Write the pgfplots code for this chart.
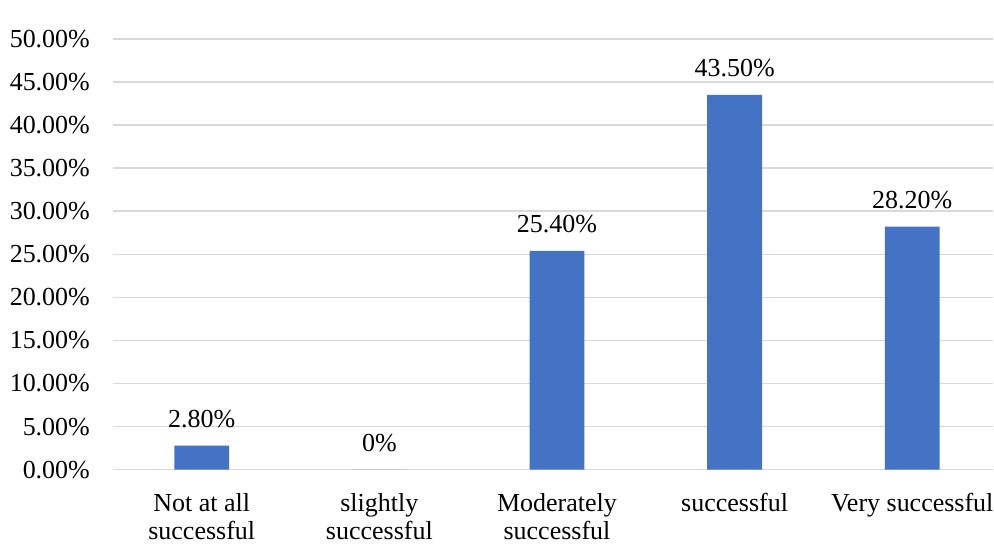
\documentclass[border=0pt]{standalone}
\usepackage{pgfplots}
\pgfplotsset{compat=1.18}
\usepackage{fontspec}
\setmainfont{Liberation Serif}
\definecolor{barblue}{HTML}{4472C4}
\definecolor{gridgray}{HTML}{D9D9D9}
\begin{document}
\fontsize{13bp}{14bp}\selectfont
\begin{tikzpicture}
\begin{axis}[
  scale only axis,
  width=440.5bp, height=215.5bp,
  xmin=-0.5, xmax=4.456,
  ymin=0, ymax=50,
  /pgf/number format/assume math mode=true,
  ytick={0,5,...,50},
  yticklabels={0.00\%,5.00\%,10.00\%,15.00\%,20.00\%,25.00\%,30.00\%,35.00\%,40.00\%,45.00\%,50.00\%},
  xtick={0,1,2,3,4},
  xticklabels={Not at all\\successful, slightly\\successful, Moderately\\successful, successful, Very successful},
  axis line style={draw=none},
  major tick length=0pt,
  ymajorgrids,
  grid style={gridgray, line width=0.75bp},
  tick label style={font=\fontsize{13bp}{14bp}\selectfont},
  xticklabel style={align=center, inner xsep=0pt, yshift=-7.5bp},
  yticklabel style={xshift=-7bp},
  ybar, bar width=27.5bp,
  nodes near coords,
  point meta=explicit symbolic,
  every node near coord/.append style={font=\fontsize{13bp}{14bp}\selectfont, yshift=4.5bp, black},
]
\addplot[fill=barblue, draw=none] coordinates {
  (0,2.8) [2.80\%]
  (1,0) [0\%]
  (2,25.4) [25.40\%]
  (3,43.5) [43.50\%]
  (4,28.2) [28.20\%]
};
\end{axis}
\path (current axis.south west) ++(-56.5bp,-36bp) rectangle ++(497bp,271bp);
\end{tikzpicture}
\end{document}
